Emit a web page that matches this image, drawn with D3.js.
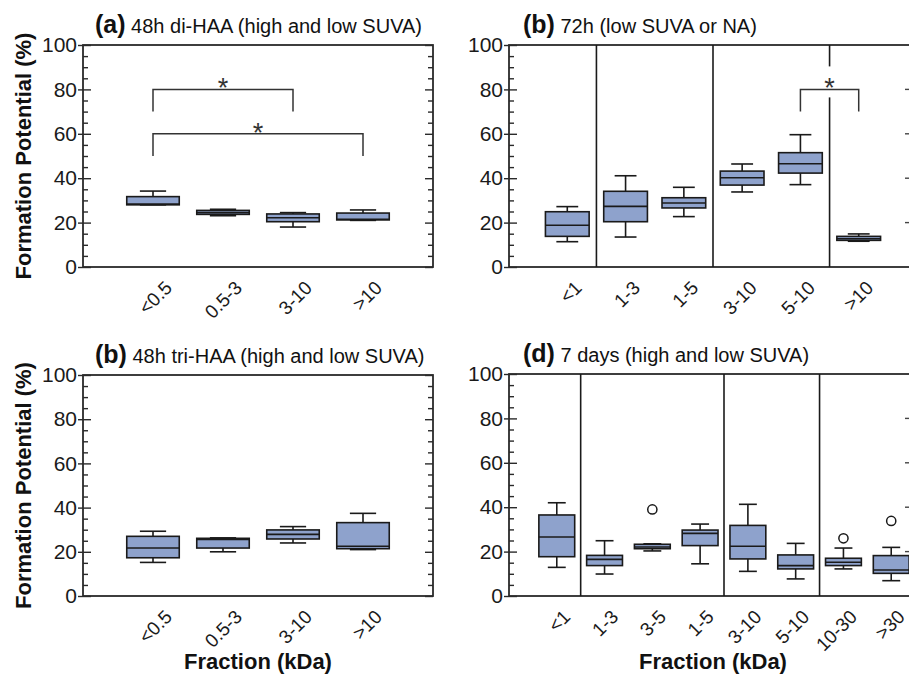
<!DOCTYPE html>
<html>
<head>
<meta charset="utf-8">
<script src="https://cdn.jsdelivr.net/npm/d3@7/dist/d3.min.js"></script>
<style>
  body { margin: 0; background: #ffffff; }
  svg { display: block; font-family: "Liberation Sans", Arial, Helvetica, sans-serif; }
</style>
</head>
<body>
<svg id="chart" width="909" height="674"></svg>
<script>
// ---------------- DATA ----------------
const yTickValues = [0, 20, 40, 60, 80, 100];
const yMinorValues = [5, 10, 15, 25, 30, 35, 45, 50, 55, 65, 70, 75, 85, 90, 95];
const edgeTickValues = [20, 40, 60, 80];
const yAxisTitle = "Formation Potential (%)";
const xAxisTitle = "Fraction (kDa)";

// (a) 48h di-HAA (high and low SUVA)
const catsA = ["<0.5", "0.5-3", "3-10", ">10"];
const lowA  = [28.0, 23.1, 18.0, 21.0];
const q1A   = [28.0, 23.7, 20.4, 21.2];
const medA  = [28.4, 24.5, 22.2, 21.5];
const q3A   = [31.7, 25.5, 23.9, 24.3];
const highA = [34.2, 26.0, 24.5, 25.7];
const outA  = [];
const sepA  = [];
const sigA  = [["<0.5", "3-10", 80, 70], ["<0.5", ">10", 60, 50]];

// (b) 72h (low SUVA or NA)
const catsB = ["<1", "1-3", "1-5", "3-10", "5-10", ">10"];
const lowB  = [11.4, 13.5, 22.7, 33.8, 37.1, 11.6];
const q1B   = [13.8, 20.4, 26.6, 36.9, 42.3, 12.0];
const medB  = [18.8, 27.3, 28.8, 40.2, 46.5, 12.7];
const q3B   = [24.9, 34.1, 31.2, 43.2, 51.5, 13.8];
const highB = [27.2, 41.1, 35.9, 46.4, 59.6, 14.9];
const outB  = [];
const sepB  = [0, 2, 4];
const sigB  = [["5-10", ">10", 80, 70]];

// (b) 48h tri-HAA (high and low SUVA)
const catsC = ["<0.5", "0.5-3", "3-10", ">10"];
const lowC  = [15.2, 20.0, 24.0, 21.0];
const q1C   = [17.3, 21.7, 25.8, 21.4];
const medC  = [21.7, 25.6, 27.9, 22.5];
const q3C   = [27.0, 26.1, 29.9, 33.2];
const highC = [29.3, 26.3, 31.4, 37.4];
const outC  = [];
const sepC  = [];
const sigC  = [];

// (d) 7 days (high and low SUVA)
const catsD = ["<1", "1-3", "3-5", "1-5", "3-10", "5-10", "10-30", ">30"];
const lowD  = [12.9, 9.9, 20.3, 14.5, 11.1, 7.7, 12.2, 6.9];
const q1D   = [17.7, 13.7, 21.3, 22.7, 16.7, 12.2, 13.7, 10.2];
const medD  = [26.6, 16.5, 22.1, 28.2, 22.4, 13.7, 15.2, 11.7];
const q3D   = [36.5, 18.3, 23.3, 29.7, 31.8, 18.5, 17.0, 18.2];
const highD = [42.0, 24.9, 23.5, 32.4, 41.3, 23.7, 21.6, 21.9];
const outD  = [["3-5", 39.0], ["10-30", 26.0], [">30", 33.8]];
const sepD  = [0, 3, 5];
const sigD  = [];

// ---------------- LAYOUT ----------------
const FILL = "#8ea2cc";
const INK = "#1a1a1a";
const FRAME = "#2a2a2a";

const panels = [
  { label: "(a)", title: " 48h di-HAA (high and low SUVA)", cats: catsA, low: lowA, q1: q1A, med: medA, q3: q3A, high: highA, out: outA, sep: sepA, sig: sigA,
    left: 83, right: 433, top: 45, bottom: 267, titleX: 95, yTitle: true, xTitle: false, xTitleX: 258, edge: false, labOff: 0.29 },
  { label: "(b)", title: " 72h (low SUVA or NA)", cats: catsB, low: lowB, q1: q1B, med: medB, q3: q3B, high: highB, out: outB, sep: sepB, sig: sigB,
    left: 509, right: 917, top: 45, bottom: 267, titleX: 523, yTitle: false, xTitle: false, xTitleX: 713, edge: true, labOff: 0.27 },
  { label: "(b)", title: " 48h tri-HAA (high and low SUVA)", cats: catsC, low: lowC, q1: q1C, med: medC, q3: q3C, high: highC, out: outC, sep: sepC, sig: sigC,
    left: 83, right: 433, top: 375, bottom: 596, titleX: 95, yTitle: true, xTitle: true, xTitleX: 258, edge: false, labOff: 0.29 },
  { label: "(d)", title: " 7 days (high and low SUVA)", cats: catsD, low: lowD, q1: q1D, med: medD, q3: q3D, high: highD, out: outD, sep: sepD, sig: sigD,
    left: 509, right: 939, top: 374, bottom: 596, titleX: 523, yTitle: false, xTitle: true, xTitleX: 713, edge: true, labOff: 0.31 }
];

const svg = d3.select("#chart");

function drawPanel(p) {
  const g = svg.append("g");
  const x = d3.scalePoint().domain(p.cats).range([p.left, p.right]).padding(1);
  const y = d3.scaleLinear().domain([0, 100]).range([p.bottom, p.top]);
  const step = x.step();
  const bw = step * 0.75;
  const cw = bw * 0.5;

  // title
  const t = g.append("text").attr("x", p.titleX).attr("y", p.top - 12).attr("fill", "#111");
  t.append("tspan").attr("font-weight", "bold").attr("font-size", 25).text(p.label);
  t.append("tspan").attr("font-size", 20).text(p.title);

  // frame
  g.append("rect").attr("x", p.left).attr("y", p.top)
    .attr("width", p.right - p.left).attr("height", p.bottom - p.top)
    .attr("fill", "none").attr("stroke", FRAME).attr("stroke-width", 1.8);

  // y axis: labels + outward major ticks
  const ax = g.append("g").attr("transform", `translate(${p.left},0)`)
    .call(d3.axisLeft(y).tickValues(yTickValues).tickSize(5).tickPadding(1).tickFormat(d3.format("d")));
  ax.select(".domain").remove();
  ax.selectAll("line").attr("stroke", FRAME).attr("stroke-width", 1.4);
  ax.selectAll("text").attr("font-size", 21).attr("fill", "#1a1a1a").attr("font-family", "Liberation Sans, Arial, sans-serif");

  // inward major + minor ticks on left and right
  const tickSets = [
    { side: "L", vals: yTickValues, len: 8 },
    { side: "L", vals: yMinorValues, len: 5 },
    { side: "R", vals: yTickValues, len: 8 },
    { side: "R", vals: yMinorValues, len: 5 }
  ];
  tickSets.forEach(ts => {
    const gx = ts.side === "L" ? p.left : p.right;
    const axis = ts.side === "L" ? d3.axisLeft(y) : d3.axisRight(y);
    const a = g.append("g").attr("transform", `translate(${gx},0)`)
      .call(axis.tickValues(ts.vals).tickSize(-ts.len).tickFormat(""));
    a.select(".domain").remove();
    a.selectAll("line").attr("stroke", FRAME).attr("stroke-width", 1.4);
  });

  // separators
  p.sep.forEach(i => {
    const sx = (x(p.cats[i]) + x(p.cats[i + 1])) / 2;
    const br = p.sig.find(s => Math.abs((x(s[0]) + x(s[1])) / 2 - sx) < 3);
    if (br) {
      g.append("line").attr("x1", sx).attr("x2", sx).attr("y1", p.top).attr("y2", y(br[2]) - 23)
        .attr("stroke", INK).attr("stroke-width", 1.6);
      g.append("line").attr("x1", sx).attr("x2", sx).attr("y1", y(br[2]) + 8).attr("y2", p.bottom)
        .attr("stroke", INK).attr("stroke-width", 1.6);
    } else {
      g.append("line").attr("x1", sx).attr("x2", sx).attr("y1", p.top).attr("y2", p.bottom)
        .attr("stroke", INK).attr("stroke-width", 1.6);
    }
  });

  // significance brackets
  p.sig.forEach(s => {
    const xa = x(s[0]), xb = x(s[1]);
    g.append("path")
      .attr("d", `M${xa},${y(s[3])}V${y(s[2])}H${xb}V${y(s[3])}`)
      .attr("fill", "none").attr("stroke", "#333").attr("stroke-width", 1.5);
    g.append("text").attr("x", (xa + xb) / 2).attr("y", y(s[2]) + 8)
      .attr("text-anchor", "middle").attr("font-size", 27).attr("fill", "#333").text("*");
  });

  // boxes
  const data = p.cats.map((c, i) => ({ c, lo: p.low[i], q1: p.q1[i], md: p.med[i], q3: p.q3[i], hi: p.high[i] }));
  const bx = g.selectAll("g.box").data(data).join("g").attr("class", "box");
  // whiskers
  bx.append("line").attr("x1", d => x(d.c)).attr("x2", d => x(d.c)).attr("y1", d => y(d.hi)).attr("y2", d => y(d.q3))
    .attr("stroke", INK).attr("stroke-width", 1.6);
  bx.append("line").attr("x1", d => x(d.c)).attr("x2", d => x(d.c)).attr("y1", d => y(d.q1)).attr("y2", d => y(d.lo))
    .attr("stroke", INK).attr("stroke-width", 1.6);
  bx.append("line").attr("x1", d => x(d.c) - cw / 2).attr("x2", d => x(d.c) + cw / 2).attr("y1", d => y(d.hi)).attr("y2", d => y(d.hi))
    .attr("stroke", INK).attr("stroke-width", 1.6);
  bx.append("line").attr("x1", d => x(d.c) - cw / 2).attr("x2", d => x(d.c) + cw / 2).attr("y1", d => y(d.lo)).attr("y2", d => y(d.lo))
    .attr("stroke", INK).attr("stroke-width", 1.6);
  bx.append("rect").attr("x", d => x(d.c) - bw / 2).attr("width", bw)
    .attr("y", d => y(d.q3)).attr("height", d => Math.max(1, y(d.q1) - y(d.q3)))
    .attr("fill", FILL).attr("stroke", INK).attr("stroke-width", 1.6);
  bx.append("line").attr("x1", d => x(d.c) - bw / 2).attr("x2", d => x(d.c) + bw / 2).attr("y1", d => y(d.md)).attr("y2", d => y(d.md))
    .attr("stroke", INK).attr("stroke-width", 1.6);

  // outliers
  g.selectAll("circle.out").data(p.out).join("circle").attr("class", "out")
    .attr("cx", d => x(d[0])).attr("cy", d => y(d[1])).attr("r", 4.6)
    .attr("fill", "#fff").attr("stroke", INK).attr("stroke-width", 1.5);

  // x tick labels (rotated)
  g.selectAll("text.xl").data(p.cats).join("text").attr("class", "xl")
    .attr("transform", d => `translate(${x(d) + step * p.labOff},${p.bottom + 22}) rotate(-45)`)
    .attr("text-anchor", "end").attr("font-size", 19).attr("fill", "#1a1a1a").text(d => d);

  // edge ticks of neighbouring (cropped) panel
  if (p.edge) {
    g.selectAll("line.edge").data(edgeTickValues).join("line").attr("class", "edge")
      .attr("x1", 905).attr("x2", 909).attr("y1", d => y(d)).attr("y2", d => y(d))
      .attr("stroke", "#444").attr("stroke-width", 1.4);
  }

  // axis titles
  if (p.yTitle) {
    g.append("text").attr("transform", `translate(31,${(p.top + p.bottom) / 2}) rotate(-90)`)
      .attr("text-anchor", "middle").attr("font-weight", "bold").attr("font-size", 22).attr("fill", "#111")
      .text(yAxisTitle);
  }
  if (p.xTitle) {
    g.append("text").attr("x", p.xTitleX).attr("y", 669)
      .attr("text-anchor", "middle").attr("font-weight", "bold").attr("font-size", 22).attr("fill", "#111")
      .text(xAxisTitle);
  }
}

panels.forEach(drawPanel);
</script>
</body>
</html>
